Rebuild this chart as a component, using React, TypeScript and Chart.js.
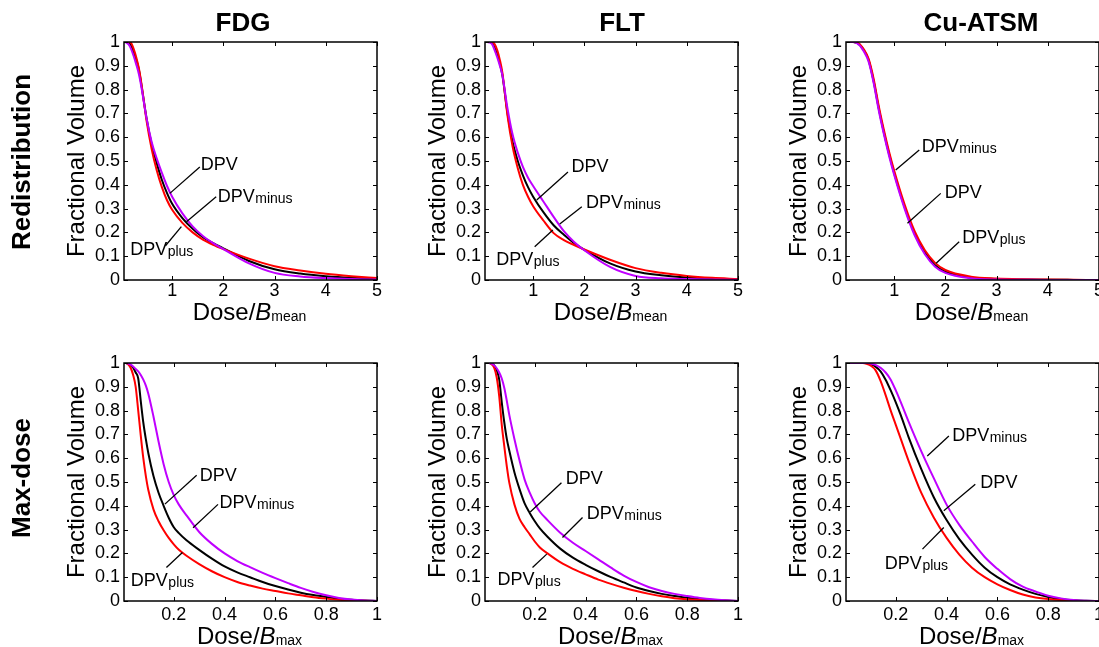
import { useEffect, useRef } from 'react';
import { Chart, registerables } from 'chart.js';
Chart.register(...registerables);

// ---------- data ----------
const X_MEAN = [0.06, 0.1, 0.15, 0.2, 0.25, 0.3, 0.35, 0.4, 0.5, 0.6, 0.7, 0.8, 0.9, 1.0, 1.2, 1.4, 1.6, 1.8, 2.0, 2.5, 3.0, 3.5, 4.0, 4.5, 5.0];
const X_MAX = [0.004, 0.01, 0.02, 0.03, 0.04, 0.05, 0.06, 0.07, 0.08, 0.09, 0.1, 0.12, 0.14, 0.16, 0.18, 0.2, 0.22, 0.25, 0.3, 0.35, 0.4, 0.45, 0.5, 0.55, 0.6, 0.65, 0.7, 0.75, 0.8, 0.85, 0.9, 0.95, 1.0];

const X_TICKS_MEAN = [1, 2, 3, 4, 5];
const X_TICKS_MAX = [0.2, 0.4, 0.6, 0.8, 1];
const Y_TICKS = [0, 0.1, 0.2, 0.3, 0.4, 0.5, 0.6, 0.7, 0.8, 0.9, 1];

const TRACERS = ['FDG', 'FLT', 'Cu-ATSM'];
const ROWS = ['Redistribution', 'Max-dose'];

const FDG_REDIST_DPV = [1, 1, 0.998, 0.985, 0.955, 0.925, 0.885, 0.82, 0.68, 0.57, 0.49, 0.42, 0.365, 0.32, 0.26, 0.215, 0.18, 0.155, 0.133, 0.08, 0.045, 0.027, 0.016, 0.009, 0.005];
const FDG_REDIST_PLUS = [1, 1, 1, 0.995, 0.97, 0.935, 0.89, 0.825, 0.67, 0.55, 0.46, 0.39, 0.335, 0.295, 0.24, 0.2, 0.17, 0.148, 0.13, 0.09, 0.058, 0.04, 0.026, 0.016, 0.008];
const FDG_REDIST_MINUS = [1, 0.998, 0.99, 0.97, 0.94, 0.905, 0.865, 0.81, 0.68, 0.58, 0.51, 0.45, 0.395, 0.35, 0.28, 0.225, 0.185, 0.155, 0.13, 0.07, 0.03, 0.015, 0.008, 0.004, 0.002];

const FLT_REDIST_DPV = [1, 1, 1, 0.995, 0.975, 0.945, 0.91, 0.86, 0.7, 0.58, 0.5, 0.44, 0.39, 0.35, 0.285, 0.23, 0.19, 0.155, 0.127, 0.07, 0.036, 0.02, 0.01, 0.005, 0.003];
const FLT_REDIST_PLUS = [1, 1, 1, 1, 0.99, 0.965, 0.925, 0.87, 0.69, 0.56, 0.47, 0.4, 0.35, 0.31, 0.25, 0.197, 0.168, 0.147, 0.128, 0.085, 0.05, 0.03, 0.017, 0.009, 0.004];
const FLT_REDIST_MINUS = [1, 1, 0.998, 0.99, 0.965, 0.935, 0.9, 0.86, 0.72, 0.61, 0.535, 0.475, 0.43, 0.395, 0.33, 0.265, 0.205, 0.16, 0.125, 0.055, 0.017, 0.007, 0.004, 0.002, 0.001];

const CU_REDIST_DPV = [1, 1, 1, 1, 0.998, 0.993, 0.983, 0.968, 0.925, 0.835, 0.72, 0.62, 0.53, 0.45, 0.31, 0.195, 0.115, 0.062, 0.035, 0.01, 0.004, 0.002, 0.001, 0.0005, 0];
const CU_REDIST_PLUS = [1, 1, 1, 1, 0.999, 0.995, 0.986, 0.972, 0.93, 0.845, 0.73, 0.63, 0.54, 0.46, 0.32, 0.205, 0.125, 0.072, 0.042, 0.014, 0.006, 0.003, 0.002, 0.001, 0];
const CU_REDIST_MINUS = [1, 1, 1, 1, 0.997, 0.99, 0.98, 0.963, 0.918, 0.828, 0.712, 0.612, 0.522, 0.442, 0.302, 0.188, 0.108, 0.056, 0.03, 0.007, 0.002, 0.001, 0, 0, 0];

const FDG_MAX_DPV = [1, 1, 0.998, 0.99, 0.98, 0.96, 0.935, 0.84, 0.75, 0.68, 0.62, 0.525, 0.455, 0.4, 0.35, 0.31, 0.285, 0.255, 0.215, 0.178, 0.145, 0.12, 0.1, 0.08, 0.063, 0.048, 0.035, 0.025, 0.017, 0.01, 0.005, 0.002, 0];
const FDG_MAX_PLUS = [1, 1, 0.995, 0.98, 0.95, 0.9, 0.8, 0.695, 0.6, 0.525, 0.465, 0.385, 0.335, 0.297, 0.265, 0.238, 0.215, 0.19, 0.155, 0.125, 0.1, 0.08, 0.065, 0.052, 0.042, 0.032, 0.024, 0.016, 0.01, 0.005, 0.002, 0.001, 0];
const FDG_MAX_MINUS = [1, 1, 0.998, 0.993, 0.985, 0.975, 0.965, 0.95, 0.93, 0.905, 0.87, 0.775, 0.67, 0.575, 0.5, 0.445, 0.405, 0.36, 0.29, 0.24, 0.2, 0.168, 0.142, 0.118, 0.096, 0.075, 0.055, 0.038, 0.024, 0.013, 0.006, 0.002, 0];

const FLT_MAX_DPV = [1, 1, 1, 0.998, 0.99, 0.97, 0.93, 0.835, 0.75, 0.68, 0.63, 0.54, 0.47, 0.41, 0.37, 0.335, 0.305, 0.27, 0.22, 0.182, 0.152, 0.125, 0.1, 0.078, 0.057, 0.042, 0.03, 0.021, 0.014, 0.008, 0.004, 0.002, 0];
const FLT_MAX_PLUS = [1, 1, 1, 0.995, 0.98, 0.94, 0.86, 0.74, 0.65, 0.565, 0.495, 0.405, 0.345, 0.31, 0.28, 0.25, 0.225, 0.2, 0.163, 0.135, 0.112, 0.09, 0.072, 0.056, 0.042, 0.03, 0.02, 0.012, 0.007, 0.004, 0.002, 0.001, 0];
const FLT_MAX_MINUS = [1, 1, 1, 0.998, 0.99, 0.978, 0.96, 0.935, 0.895, 0.84, 0.78, 0.68, 0.59, 0.51, 0.455, 0.41, 0.375, 0.34, 0.287, 0.245, 0.21, 0.175, 0.14, 0.107, 0.08, 0.058, 0.042, 0.03, 0.021, 0.013, 0.007, 0.003, 0];

const CU_MAX_DPV = [1, 1, 1, 1, 1, 1, 1, 1, 1, 0.998, 0.995, 0.985, 0.965, 0.93, 0.885, 0.835, 0.78, 0.69, 0.555, 0.435, 0.34, 0.26, 0.195, 0.14, 0.1, 0.07, 0.048, 0.03, 0.017, 0.008, 0.003, 0.001, 0];
const CU_MAX_PLUS = [1, 1, 1, 1, 1, 1, 1, 1, 0.998, 0.995, 0.99, 0.97, 0.925, 0.865, 0.8, 0.74, 0.68, 0.59, 0.455, 0.35, 0.265, 0.195, 0.14, 0.1, 0.07, 0.046, 0.027, 0.015, 0.008, 0.004, 0.001, 0, 0];
const CU_MAX_MINUS = [1, 1, 1, 1, 1, 1, 1, 1, 1, 1, 0.998, 0.992, 0.98, 0.96, 0.93, 0.885, 0.835, 0.755, 0.63, 0.515, 0.405, 0.32, 0.25, 0.185, 0.135, 0.092, 0.06, 0.04, 0.022, 0.011, 0.004, 0.001, 0];

// annotation labels (data coordinates: curve tip, line end, text anchor)
type Lbl = { sub: string; tip: number[]; end: number[]; at: number[] };
const FDG_REDIST_LABELS: Lbl[] = [
  { sub: '', tip: [0.955, 0.364], end: [1.54, 0.475], at: [1.56, 0.49] },
  { sub: 'minus', tip: [1.28, 0.245], end: [1.86, 0.35], at: [1.89, 0.357] },
  { sub: 'plus', tip: [1.18, 0.224], end: [0.87, 0.144], at: [0.18, 0.134] },
];
const FLT_REDIST_LABELS: Lbl[] = [
  { sub: '', tip: [1.07, 0.336], end: [1.68, 0.454], at: [1.75, 0.483] },
  { sub: 'minus', tip: [1.52, 0.235], end: [1.95, 0.308], at: [2.03, 0.329] },
  { sub: 'plus', tip: [1.385, 0.21], end: [1.03, 0.14], at: [0.28, 0.091] },
];
const CU_REDIST_LABELS: Lbl[] = [
  { sub: 'minus', tip: [1.03, 0.462], end: [1.49, 0.546], at: [1.54, 0.567] },
  { sub: '', tip: [1.26, 0.238], end: [1.91, 0.364], at: [1.99, 0.371] },
  { sub: 'plus', tip: [1.82, 0.07], end: [2.27, 0.161], at: [2.33, 0.181] },
];
const FDG_MAX_LABELS: Lbl[] = [
  { sub: '', tip: [0.165, 0.407], end: [0.29, 0.528], at: [0.302, 0.532] },
  { sub: 'minus', tip: [0.276, 0.308], end: [0.374, 0.406], at: [0.38, 0.416] },
  { sub: 'plus', tip: [0.234, 0.204], end: [0.171, 0.141], at: [0.031, 0.092] },
];
const FLT_MAX_LABELS: Lbl[] = [
  { sub: '', tip: [0.182, 0.374], end: [0.305, 0.497], at: [0.322, 0.519] },
  { sub: 'minus', tip: [0.309, 0.267], end: [0.388, 0.351], at: [0.405, 0.372] },
  { sub: 'plus', tip: [0.247, 0.197], end: [0.191, 0.141], at: [0.053, 0.095] },
];
const CU_MAX_LABELS: Lbl[] = [
  { sub: 'minus', tip: [0.324, 0.609], end: [0.409, 0.693], at: [0.422, 0.701] },
  { sub: '', tip: [0.389, 0.379], end: [0.513, 0.491], at: [0.533, 0.504] },
  { sub: 'plus', tip: [0.389, 0.309], end: [0.305, 0.218], at: [0.157, 0.162] },
];

// ---------- layout / style ----------
const FONT = '"Liberation Sans", Arial, Helvetica, sans-serif';
const BLACK = '#000000';
const RED = '#ff0000';
const PURPLE = '#bf00ff';
const COL_LEFT = [124, 485, 846];
const ROW_TOP = [42, 363];
const ROW_TICK_PAD = [0, 3];
const ROW_XTITLE_GAP = [40, 43];
const PLOT_W = 253;
const PLOT_H = 238;
const PAD_L = 124;
const PAD_T = 42;
const CANVAS_W = 387;
const CANVAS_H = 330;
const TITLE_X = [243, 622, 981];
const ROW_LABEL_Y = [162, 478];

type PanelProps = {
  col: number;
  row: number;
  xs: number[];
  dpv: number[];
  plus: number[];
  minus: number[];
  labels: Lbl[];
  xTicks: number[];
  xMin: number;
  xMax: number;
  sub: string;
};

function Panel(p: PanelProps) {
  const ref = useRef<HTMLCanvasElement | null>(null);
  useEffect(() => {
    const canvas = ref.current;
    if (!canvas) return;
    const left = COL_LEFT[p.col] - PAD_L;
    const top = ROW_TOP[p.row] - PAD_T;

    const decor = {
      id: 'decor',
      afterDatasetsDraw(chart: any) {
        const { ctx, chartArea: a, scales } = chart;
        const xs = scales.x;
        const ys = scales.y;
        ctx.save();
        // box
        ctx.strokeStyle = '#000';
        ctx.lineWidth = 1.5;
        ctx.strokeRect(a.left, a.top, a.right - a.left, a.bottom - a.top);
        // inward ticks
        ctx.lineWidth = 1;
        ctx.beginPath();
        for (const t of xs.ticks) {
          const px = Math.round(xs.getPixelForValue(t.value)) + 0.5;
          ctx.moveTo(px, a.bottom);
          ctx.lineTo(px, a.bottom - 4);
          ctx.moveTo(px, a.top);
          ctx.lineTo(px, a.top + 4);
        }
        for (const t of ys.ticks) {
          const py = Math.round(ys.getPixelForValue(t.value)) + 0.5;
          ctx.moveTo(a.left, py);
          ctx.lineTo(a.left + 4, py);
          ctx.moveTo(a.right, py);
          ctx.lineTo(a.right - 4, py);
        }
        ctx.stroke();
        // annotations
        for (const l of p.labels) {
          ctx.beginPath();
          ctx.lineWidth = 1.3;
          ctx.moveTo(xs.getPixelForValue(l.tip[0]), ys.getPixelForValue(l.tip[1]));
          ctx.lineTo(xs.getPixelForValue(l.end[0]), ys.getPixelForValue(l.end[1]));
          ctx.stroke();
          const lx = xs.getPixelForValue(l.at[0]);
          const base = ys.getPixelForValue(l.at[1]) + 6.5;
          ctx.fillStyle = '#000';
          ctx.textAlign = 'left';
          ctx.textBaseline = 'alphabetic';
          ctx.font = `18px ${FONT}`;
          ctx.fillText('DPV', lx, base);
          if (l.sub) {
            const w = ctx.measureText('DPV').width;
            ctx.font = `14px ${FONT}`;
            ctx.fillText(l.sub, lx + w + 0.5, base + 1);
          }
        }
        ctx.fillStyle = '#000';
        // y axis title
        ctx.save();
        ctx.translate(a.left - 47, (a.top + a.bottom) / 2);
        ctx.rotate(-Math.PI / 2);
        ctx.font = `24px ${FONT}`;
        ctx.textAlign = 'center';
        ctx.textBaseline = 'middle';
        ctx.fillText('Fractional Volume', 0, 0);
        ctx.restore();
        // x axis title: Dose/B_sub
        {
          const f1 = `24px ${FONT}`;
          const f2 = `italic 24px ${FONT}`;
          const f3 = `14px ${FONT}`;
          ctx.font = f1;
          const w1 = ctx.measureText('Dose/').width;
          ctx.font = f2;
          const w2 = ctx.measureText('B').width;
          ctx.font = f3;
          const w3 = ctx.measureText(p.sub).width;
          const total = w1 + w2 + w3;
          let x0 = (a.left + a.right) / 2 - total / 2 - 1;
          const base = a.bottom + ROW_XTITLE_GAP[p.row];
          ctx.textAlign = 'left';
          ctx.textBaseline = 'alphabetic';
          ctx.font = f1;
          ctx.fillText('Dose/', x0, base);
          x0 += w1;
          ctx.font = f2;
          ctx.fillText('B', x0, base);
          x0 += w2;
          ctx.font = f3;
          ctx.fillText(p.sub, x0, base + 1);
        }
        // column title
        if (p.row === 0) {
          ctx.font = `bold 26px ${FONT}`;
          ctx.textAlign = 'center';
          ctx.textBaseline = 'middle';
          ctx.fillText(TRACERS[p.col], TITLE_X[p.col] - left, 24);
        }
        // row label
        if (p.col === 0) {
          ctx.save();
          ctx.translate(23, ROW_LABEL_Y[p.row] - top);
          ctx.rotate(-Math.PI / 2);
          ctx.font = `bold 26px ${FONT}`;
          ctx.textAlign = 'center';
          ctx.textBaseline = 'middle';
          ctx.fillText(ROWS[p.row], 0, 0);
          ctx.restore();
        }
        ctx.restore();
      },
    };

    const mk = (vals: number[], color: string, label: string) => ({
      label,
      data: p.xs.map((x, i) => ({ x, y: vals[i] })),
      borderColor: color,
      backgroundColor: color,
      borderWidth: 2,
      pointRadius: 0,
      fill: false,
      cubicInterpolationMode: 'monotone' as const,
    });

    const tickFont = { family: FONT, size: 18 };
    const chart = new Chart(canvas, {
      type: 'line',
      data: {
        datasets: [
          mk(p.minus, PURPLE, 'DPVminus'),
          mk(p.plus, RED, 'DPVplus'),
          mk(p.dpv, BLACK, 'DPV'),
        ],
      },
      options: {
        animation: false,
        responsive: false,
        maintainAspectRatio: false,
        events: [],
        layout: {
          padding: {
            left: PAD_L - 40,
            top: PAD_T,
            right: CANVAS_W - PAD_L - PLOT_W,
            bottom: CANVAS_H - PAD_T - PLOT_H - 30,
          },
        },
        plugins: { legend: { display: false }, tooltip: { enabled: false }, title: { display: false } },
        scales: {
          x: {
            type: 'linear',
            min: p.xMin,
            max: p.xMax,
            afterBuildTicks: (s: any) => {
              s.ticks = p.xTicks.map((v) => ({ value: v }));
            },
            afterFit: (s: any) => {
              s.height = 30;
            },
            ticks: {
              font: tickFont,
              color: '#000',
              padding: ROW_TICK_PAD[p.row],
              maxRotation: 0,
              autoSkip: false,
              callback: (v: any) => String(v),
            },
            grid: { display: false, drawTicks: false },
            border: { display: false },
          },
          y: {
            type: 'linear',
            min: 0,
            max: 1,
            afterBuildTicks: (s: any) => {
              s.ticks = Y_TICKS.map((v) => ({ value: v }));
            },
            afterFit: (s: any) => {
              s.width = 40;
            },
            ticks: {
              font: tickFont,
              color: '#000',
              padding: 4,
              autoSkip: false,
              callback: (v: any) => String(v),
            },
            grid: { display: false, drawTicks: false },
            border: { display: false },
          },
        },
      },
      plugins: [decor],
    });
    return () => chart.destroy();
  }, []);

  return (
    <canvas
      ref={ref}
      width={CANVAS_W}
      height={CANVAS_H}
      style={{
        position: 'absolute',
        left: COL_LEFT[p.col] - PAD_L,
        top: ROW_TOP[p.row] - PAD_T,
        width: CANVAS_W,
        height: CANVAS_H,
      }}
    />
  );
}

export default function App() {
  return (
    <div
      style={{
        position: 'absolute',
        left: 0,
        top: 0,
        width: 1099,
        height: 647,
        overflow: 'hidden',
        background: '#fff',
      }}
    >
      <Panel col={0} row={0} xs={X_MEAN} dpv={FDG_REDIST_DPV} plus={FDG_REDIST_PLUS} minus={FDG_REDIST_MINUS} labels={FDG_REDIST_LABELS} xTicks={X_TICKS_MEAN} xMin={0.06} xMax={5} sub="mean" />
      <Panel col={1} row={0} xs={X_MEAN} dpv={FLT_REDIST_DPV} plus={FLT_REDIST_PLUS} minus={FLT_REDIST_MINUS} labels={FLT_REDIST_LABELS} xTicks={X_TICKS_MEAN} xMin={0.06} xMax={5} sub="mean" />
      <Panel col={2} row={0} xs={X_MEAN} dpv={CU_REDIST_DPV} plus={CU_REDIST_PLUS} minus={CU_REDIST_MINUS} labels={CU_REDIST_LABELS} xTicks={X_TICKS_MEAN} xMin={0.06} xMax={5} sub="mean" />
      <Panel col={0} row={1} xs={X_MAX} dpv={FDG_MAX_DPV} plus={FDG_MAX_PLUS} minus={FDG_MAX_MINUS} labels={FDG_MAX_LABELS} xTicks={X_TICKS_MAX} xMin={0.004} xMax={1} sub="max" />
      <Panel col={1} row={1} xs={X_MAX} dpv={FLT_MAX_DPV} plus={FLT_MAX_PLUS} minus={FLT_MAX_MINUS} labels={FLT_MAX_LABELS} xTicks={X_TICKS_MAX} xMin={0.004} xMax={1} sub="max" />
      <Panel col={2} row={1} xs={X_MAX} dpv={CU_MAX_DPV} plus={CU_MAX_PLUS} minus={CU_MAX_MINUS} labels={CU_MAX_LABELS} xTicks={X_TICKS_MAX} xMin={0.004} xMax={1} sub="max" />
    </div>
  );
}
